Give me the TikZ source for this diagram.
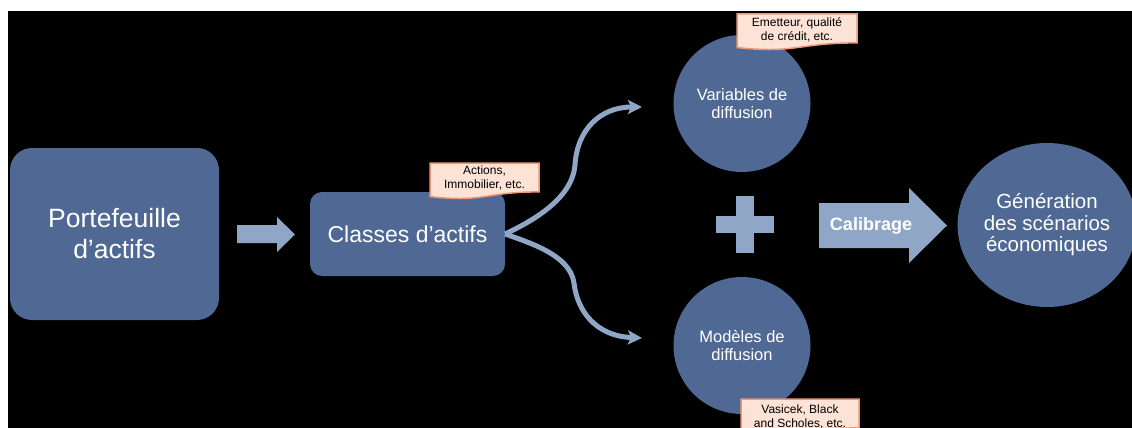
\documentclass[tikz,border=0pt]{standalone}
\usepackage{fontspec}
\setmainfont{Liberation Sans}
\usetikzlibrary{arrows.meta,shapes.geometric}
\definecolor{ufwzzu}{rgb}{0.31,0.41,0.58}
\definecolor{yfavcy}{rgb}{0.56,0.65,0.78}
\definecolor{fceudw}{rgb}{0.99,0.89,0.84}
\definecolor{eczwxw}{rgb}{0.93,0.59,0.46}
\begin{document}
\begin{tikzpicture}[line cap=round,line join=round,x=1pt,y=-1pt,
  bloc/.style={fill=ufwzzu,text=white,align=center,inner sep=0pt},
  bulle/.style={bloc,circle,minimum size=137pt,font=\fontsize{16.5}{18.5}\selectfont},
  notebox/.style={fill=fceudw,draw=eczwxw,line width=1.5pt,line join=miter},
  notetext/.style={text=black,align=center,inner sep=0pt,font=\fontsize{12}{14}\selectfont},
  courbe/.style={draw=yfavcy,line width=5pt,line cap=butt,-{Stealth[length=14pt,width=14pt,inset=3pt]}}]
\useasboundingbox (0,0) rectangle (1132,428);
\fill[white] (0,0) rectangle (1132,428);
\fill[black] (8,11) rectangle (1132,428);
\clip (0,0) rectangle (1132,428);
\node[bloc,rounded corners=22pt,minimum width=209pt,minimum height=172pt,font=\fontsize{26.5}{31}\selectfont] (portefeuille) at (114.5,234) {Portefeuille\\d’actifs};
\fill[yfavcy] (237,225) -- (277,225) -- (277,217) -- (295,234.5) -- (277,252) -- (277,243) -- (237,243) -- cycle;
\node[bloc,rounded corners=12pt,minimum width=195pt,minimum height=84pt,font=\fontsize{23}{27}\selectfont] (classes) at (407.5,234) {Classes d’actifs};
\coordinate (tipV) at (642,107);
\coordinate (tipM) at (642,338);
\draw[courbe] (classes.east) .. controls (530,222) and (572,200) .. (575,165) .. controls (577,130) and (600,107) .. (tipV);
\draw[courbe] (classes.east) .. controls (530,243) and (570,255) .. (574,283) .. controls (577,310) and (595,336) .. (tipM);
\node[bulle] (variables) at (742,103.5) {Variables de\\diffusion};
\node[bulle] (modeles) at (742,345.5) {Modèles de\\diffusion};
\fill[yfavcy] (736,196) rectangle (754,253);
\fill[yfavcy] (716,216) rectangle (774,233);
\fill[yfavcy] (819,203) -- (909,203) -- (909,188) -- (947,225.5) -- (909,263) -- (909,248) -- (819,248) -- cycle;
\node[text=white,font=\bfseries\fontsize{18}{21}\selectfont] (calibrage) at (871,226) {Calibrage};
\node[bloc,ellipse,minimum width=172pt,minimum height=164pt,font=\fontsize{20.5}{21.5}\selectfont] (generation) at (1047,225) {Génération\\des scénarios\\économiques};
\foreach \nx/\ny/\nw in {430/163/109,737/14/120,741/399/118}
  \filldraw[notebox] (\nx,\ny) -- (\nx+\nw,\ny) -- (\nx+\nw,\ny+28.9) .. controls (\nx+\nw/2,\ny+28.9) and (\nx+\nw/2,\ny+39.8) .. (\nx,\ny+33.6) -- cycle;
\node[notetext] (actions) at (484.5,178) {Actions,\\Immobilier, etc.};
\node[notetext] (emetteur) at (797,29.5) {Emetteur, qualité\\de crédit, etc.};
\node[notetext] (vasicek) at (800,416.5) {Vasicek, Black\\and Scholes, etc.};
\end{tikzpicture}
\end{document}
